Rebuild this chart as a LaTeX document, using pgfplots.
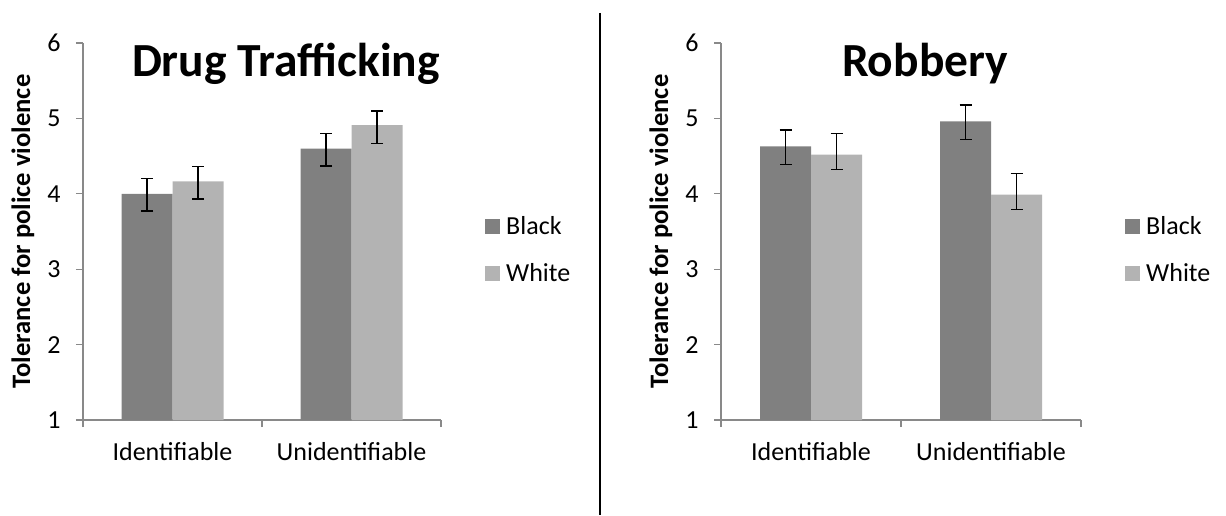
\documentclass[border=0pt]{standalone}
\usepackage{fontspec}
\setmainfont{Carlito}
\usepackage{pgfplots}
\pgfplotsset{compat=1.18}
\usepackage{pgfplotstable}
\definecolor{dk}{HTML}{808080}
\definecolor{lt}{HTML}{B3B3B3}
\definecolor{ax}{HTML}{898989}

\pgfplotstableread{
x y ep em
1 4.00 0.20 0.23
2 4.60 0.20 0.23
}\drugblack
\pgfplotstableread{
x y ep em
1 4.165 0.195 0.235
2 4.91 0.19 0.24
}\drugwhite
\pgfplotstableread{
x y ep em
1 4.63 0.215 0.24
2 4.96 0.22 0.24
}\robblack
\pgfplotstableread{
x y ep em
1 4.52 0.28 0.20
2 3.99 0.28 0.195
}\robwhite

\pgfplotsset{
  panel/.style={
    scale only axis, height=377pt,
    xmin=0.5, xmax=2.5, ymin=1, ymax=6,
    axis x line=bottom, axis y line=left,
    axis line style={draw=ax, line width=1.3pt, -},
    ytick={1,2,3,4,5,6},
    xtick={0.5,1.5,2.5}, xticklabels={},
    extra x ticks={1,2}, extra x tick labels={Identifiable,Unidentifiable},
    extra x tick style={major tick length=0pt, xticklabel style={yshift=-19pt}},
    tick align=outside, major tick length=7pt,
    tick style={draw=ax, line width=1.3pt},
    /pgf/number format/assume math mode=true,
    tick label style={font=\fontsize{26}{30}\selectfont},
    yticklabel style={xshift=-12pt},
    ylabel={Tolerance for police violence},
    ylabel style={font=\bfseries\fontsize{26.6}{30}\selectfont, at={(axis description cs:0,0.5)}, yshift=60pt, anchor=center},
    ybar=0pt, bar width=51pt,
    clip=false,
    legend style={draw=none, fill=none, at={(axis description cs:1,0.451)}, anchor=west, xshift=44pt,
      font=\fontsize{26}{30}\selectfont, row sep=23pt, column sep=4pt, inner sep=0pt, cells={anchor=west}},
    legend image code/.code={\fill[##1] (0pt,-7.5pt) rectangle (15pt,7.5pt);},
  },
  bars/.style={fill=#1, draw=none,
    error bars/.cd, y dir=both, y explicit,
    error bar style={black, line width=1.5pt},
    error mark options={black, rotate=90, mark size=6pt, line width=1.5pt}},
}

\begin{document}
\begin{tikzpicture}
\useasboundingbox (0,0) rectangle (1226pt,515pt);
\begin{axis}[panel, width=358pt, at={(83pt,95pt)}, anchor=south west]
\addplot[bars=dk] table[x=x, y=y, y error plus=ep, y error minus=em] {\drugblack};
\addplot[bars=lt] table[x=x, y=y, y error plus=ep, y error minus=em] {\drugwhite};
\legend{Black,White}
\end{axis}
\begin{axis}[panel, width=360pt, at={(721pt,95pt)}, anchor=south west]
\addplot[bars=dk] table[x=x, y=y, y error plus=ep, y error minus=em] {\robblack};
\addplot[bars=lt] table[x=x, y=y, y error plus=ep, y error minus=em] {\robwhite};
\legend{Black,White}
\end{axis}
\node[font=\bfseries\fontsize{47.5}{56}\selectfont, anchor=base] at (286pt,438pt) {Drug Trafficking};
\node[font=\bfseries\fontsize{47.5}{56}\selectfont, anchor=base] at (925pt,438pt) {Robbery};
\draw[line width=1.2pt] (600pt,502pt) -- (600pt,27pt);
\draw[line width=2.6pt] (600pt,27pt) -- (600pt,0pt);
\end{tikzpicture}
\end{document}
